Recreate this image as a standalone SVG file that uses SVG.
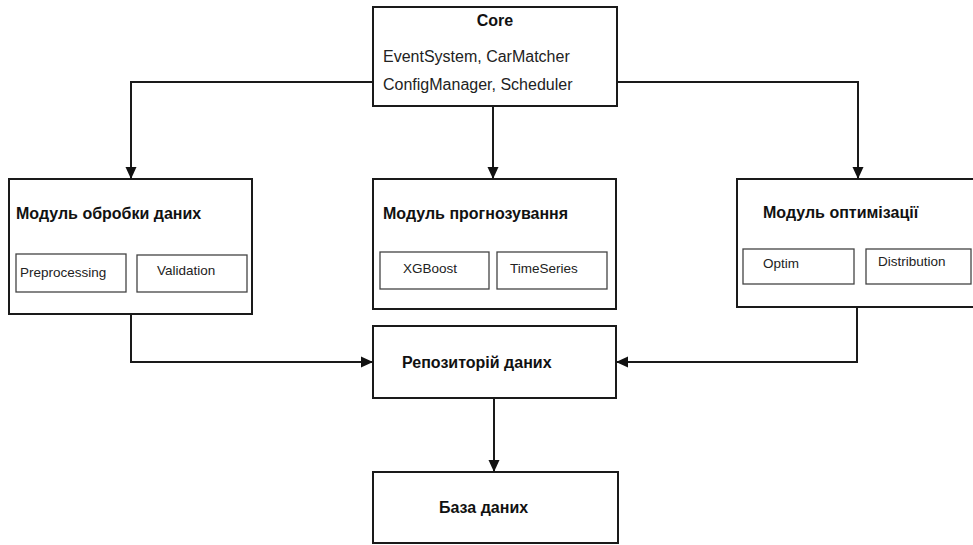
<svg xmlns="http://www.w3.org/2000/svg" width="973" height="545" viewBox="0 0 973 545">
  <defs>
    <marker id="arrow" viewBox="0 0 12 12" refX="12" refY="6" markerWidth="12" markerHeight="12" markerUnits="userSpaceOnUse" orient="auto">
      <path d="M0,0.5 L12,6 L0,11.5 Z" fill="#111"/>
    </marker>
  </defs>
  <style>
    .box { fill: #fff; stroke: #1a1a1a; stroke-width: 2; }
    .sub { fill: #fff; stroke: #444; stroke-width: 1.3; }
    .title { font-family: "Liberation Sans", Arial, sans-serif; font-weight: bold; font-size: 16px; fill: #111; }
    .txt { font-family: "Liberation Sans", Arial, sans-serif; font-size: 16px; fill: #222; }
    .small { font-family: "Liberation Sans", Arial, sans-serif; font-size: 13.5px; fill: #222; }
    .link { fill: none; stroke: #1a1a1a; stroke-width: 2; marker-end: url(#arrow); }
  </style>
  <rect width="973" height="545" fill="#fff"/>

  <g id="core">
    <rect class="box" x="373" y="7" width="244" height="99"/>
    <text class="title" x="495" y="26" text-anchor="middle">Core</text>
    <text class="txt" x="383" y="62">EventSystem, CarMatcher</text>
    <text class="txt" x="383" y="90">ConfigManager, Scheduler</text>
  </g>

  <g id="data-processing">
    <rect class="box" x="9" y="179" width="243" height="135"/>
    <text class="title" x="16" y="219">Модуль обробки даних</text>
    <rect class="sub" x="16" y="254" width="110" height="38"/>
    <text class="small" x="20" y="277">Preprocessing</text>
    <rect class="sub" x="137" y="255" width="110" height="37"/>
    <text class="small" x="157" y="275">Validation</text>
  </g>

  <g id="forecasting">
    <rect class="box" x="373" y="179" width="243" height="130"/>
    <text class="title" x="383" y="219">Модуль прогнозування</text>
    <rect class="sub" x="380" y="252" width="109" height="37"/>
    <text class="small" x="403" y="273">XGBoost</text>
    <rect class="sub" x="497" y="252" width="110" height="37"/>
    <text class="small" x="510" y="273">TimeSeries</text>
  </g>

  <g id="optimization">
    <rect class="box" x="737" y="179" width="240" height="128"/>
    <text class="title" x="763" y="218">Модуль оптимізації</text>
    <rect class="sub" x="743" y="249" width="111" height="35"/>
    <text class="small" x="763" y="268">Optim</text>
    <rect class="sub" x="866" y="249" width="105" height="35"/>
    <text class="small" x="878" y="266">Distribution</text>
  </g>

  <g id="repository">
    <rect class="box" x="373" y="326" width="243" height="72"/>
    <text class="title" x="402" y="368">Репозиторій  даних</text>
  </g>

  <g id="database">
    <rect class="box" x="373" y="472" width="245" height="71"/>
    <text class="title" x="439" y="513">База даних</text>
  </g>

  <g id="connectors">
    <path class="link" d="M373,82 H131 V179"/>
    <path class="link" d="M493,106 V179"/>
    <path class="link" d="M617,82 H858 V179"/>
    <path class="link" d="M131,314 V362 H373"/>
    <path class="link" d="M857,307 V362 H616"/>
    <path class="link" d="M494,398 V472"/>
  </g>
</svg>
